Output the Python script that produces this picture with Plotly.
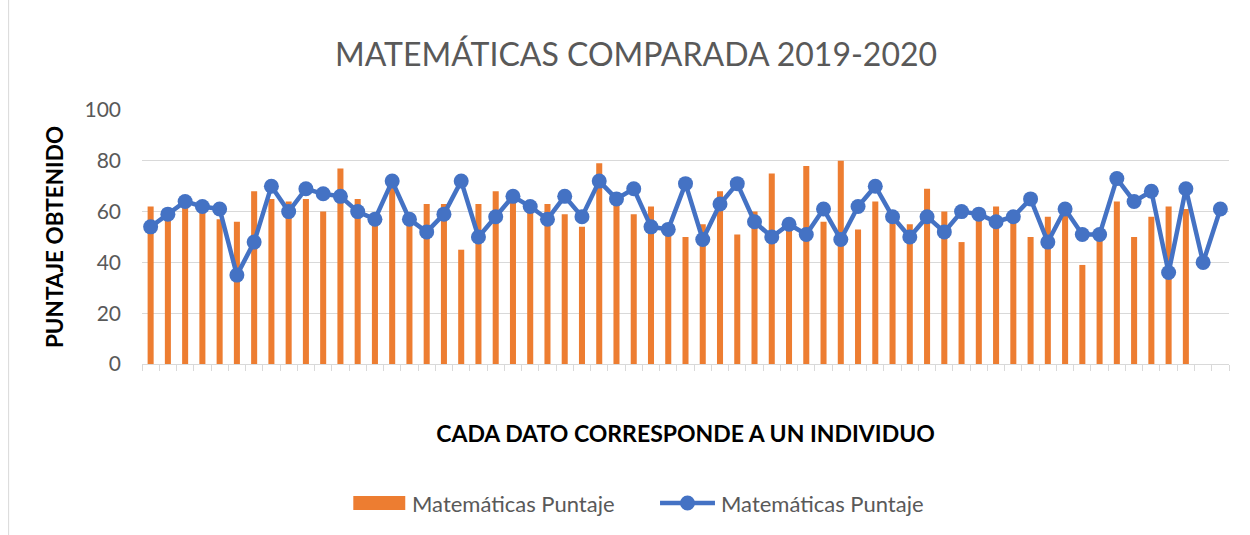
import plotly.graph_objects as go

categories = [str(i) for i in range(1, 64)]
bar_values = [62, 57, 62, 61, 57, 56, 68, 65, 64, 65, 60, 77, 65, 57, 70, 56,
              63, 63, 45, 63, 68, 65, 61, 63, 59, 54, 79, 67, 59, 62, 52, 50,
              55, 68, 51, 60, 75, 54, 78, 56, 80, 53, 64, 57, 55, 69, 60, 48,
              58, 62, 57, 50, 58, 59, 39, 50, 64, 50, 58, 62, 61]
line_values = [54, 59, 64, 62, 61, 35, 48, 70, 60, 69, 67, 66, 60, 57, 72, 57,
               52, 59, 72, 50, 58, 66, 62, 57, 66, 58, 72, 65, 69, 54, 53, 71,
               49, 63, 71, 56, 50, 55, 51, 61, 49, 62, 70, 58, 50, 58, 52,
               60, 59, 56, 58, 65, 48, 61, 51, 51, 73, 64, 68, 36, 69, 40, 61]
series_name = "Matemáticas Puntaje"
title_text = "MATEMÁTICAS COMPARADA 2019-2020"
y_title = "PUNTAJE OBTENIDO"
x_title = "CADA DATO CORRESPONDE A UN INDIVIDUO"
y_ticks = [0, 20, 40, 60, 80, 100]

FONT = "Lato"
GRAY = "#595959"
ORANGE = "#ED7D31"
BLUE = "#4472C4"

fig = go.Figure()
fig.add_trace(go.Bar(x=categories[:len(bar_values)], y=bar_values, name=series_name,
                     marker=dict(color=ORANGE, line=dict(width=0)), showlegend=False))
fig.add_trace(go.Scatter(x=categories, y=line_values, name=series_name, mode="lines+markers",
                         line=dict(color=BLUE, width=4.5),
                         marker=dict(color=BLUE, size=15), showlegend=False))

L, R, T, B = 141.5, 20.5, 110, 171
W, H = 1250, 535
pw = W - L - R
ph = H - T - B


def px(x):
    return (x - L) / pw


def py(y):
    return (H - B - y) / ph


fig.update_layout(
    width=W, height=H,
    margin=dict(l=L, r=R, t=T, b=B, autoexpand=False),
    paper_bgcolor="white", plot_bgcolor="white",
    bargap=0.65,
    font=dict(family=FONT, color=GRAY, size=18),
    title=dict(text=title_text, x=px(636), xanchor="center", xref="paper",
               y=1 - 55 / H, yanchor="middle",
               font=dict(family=FONT, size=32, color=GRAY), automargin=False),
    showlegend=False,
    xaxis=dict(type="category", categoryorder="array", categoryarray=categories,
               showticklabels=False, ticks="outside", tickson="boundaries", ticklen=6,
               tickcolor="#d9d9d9", showline=True, linecolor="#d9d9d9", linewidth=1,
               showgrid=False, range=[-0.5, len(categories) - 0.5], automargin=False,
               title=dict(text=f"<b>{x_title}</b>", standoff=61,
                          font=dict(family=FONT, size=23, color="black"))),
    yaxis=dict(range=[0, 100], tickvals=y_ticks, showgrid=True, gridcolor="#d9d9d9",
               gridwidth=1, zeroline=False, ticks="", showline=False, automargin=False,
               ticklabelstandoff=20,
               tickfont=dict(family=FONT, size=21, color=GRAY),
               title=dict(text=f"<b>{y_title}</b>", standoff=14,
                          font=dict(family=FONT, size=22.5, color="black"))),
)

# chart frame edge on the left
fig.add_shape(type="line", xref="paper", yref="paper",
              x0=px(8), x1=px(8), y0=py(H + 5), y1=py(-5),
              line=dict(color="#d9d9d9", width=1))

# legend (drawn like the original: wide bar swatch and line-with-marker swatch)
ly = 503
fig.add_shape(type="rect", xref="paper", yref="paper",
              x0=px(353), x1=px(405), y0=py(ly + 7), y1=py(ly - 7),
              fillcolor=ORANGE, line=dict(width=0))
fig.add_annotation(xref="paper", yref="paper", x=px(410), y=py(ly), xanchor="left",
                   yanchor="middle", text=series_name, showarrow=False,
                   font=dict(family=FONT, size=22, color=GRAY))
fig.add_shape(type="line", xref="paper", yref="paper",
              x0=px(660), x1=px(715), y0=py(ly), y1=py(ly),
              line=dict(color=BLUE, width=4.5))
fig.add_shape(type="circle", xref="paper", yref="paper",
              x0=px(680), x1=px(695), y0=py(ly + 7.5), y1=py(ly - 7.5),
              fillcolor=BLUE, line=dict(width=0))
fig.add_annotation(xref="paper", yref="paper", x=px(719), y=py(ly), xanchor="left",
                   yanchor="middle", text=series_name, showarrow=False,
                   font=dict(family=FONT, size=22, color=GRAY))

fig.write_html("out.html", config={"displayModeBar": False},
               post_script="document.body.style.margin='0';document.body.style.overflow='hidden';")
